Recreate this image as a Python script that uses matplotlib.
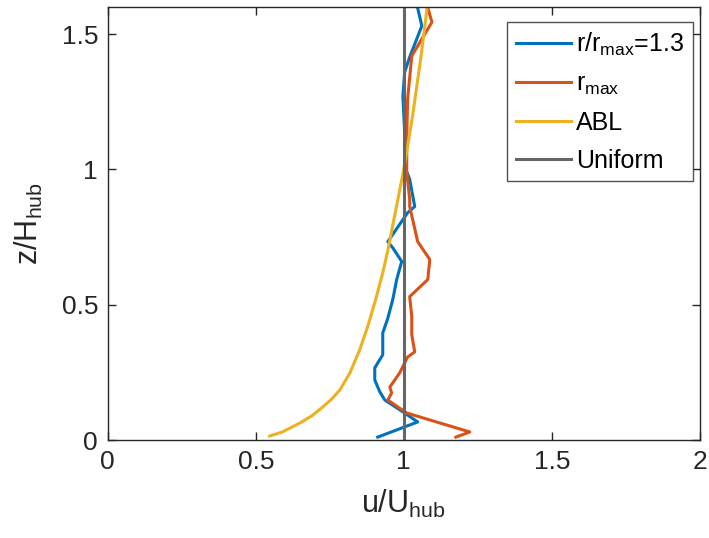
import numpy as np
import matplotlib
matplotlib.use("Agg")
import matplotlib.pyplot as plt

plt.rcParams['font.family'] = ['Liberation Sans', 'DejaVu Sans']
plt.rcParams['mathtext.default'] = 'regular'

# r/rmax = 1.3 profile (u/Uhub, z/Hhub)
u_r13 = [0.912, 1.047, 1.003, 0.936, 0.919, 0.902, 0.902, 0.929, 0.929, 0.946, 0.963,
         0.976, 0.993, 0.963, 0.946, 1.013, 1.037, 1.020, 1.007, 1.003, 0.997, 1.003,
         1.020, 1.061, 1.044]
z_r13 = [0.011, 0.067, 0.100, 0.148, 0.178, 0.222, 0.267, 0.315, 0.396, 0.450, 0.520,
         0.593, 0.660, 0.710, 0.733, 0.840, 0.863, 0.963, 1.000, 1.137, 1.270, 1.360,
         1.415, 1.530, 1.610]

# rmax profile
u_rmax = [1.176, 1.223, 1.010, 0.946, 0.959, 0.953, 0.986, 1.013, 1.037, 1.027, 1.027,
          1.020, 1.081, 1.088, 1.047, 1.020, 1.020, 1.010, 1.010, 1.013, 1.027, 1.095,
          1.078]
z_rmax = [0.011, 0.030, 0.100, 0.148, 0.174, 0.196, 0.248, 0.307, 0.326, 0.389, 0.456,
          0.530, 0.593, 0.667, 0.733, 0.863, 0.889, 0.989, 1.110, 1.260, 1.419, 1.544,
          1.610]

# ABL inflow profile
u_abl = [0.547, 0.59, 0.649, 0.69, 0.726, 0.755, 0.784, 0.818, 0.851, 0.878, 0.905,
         0.929, 0.946, 0.964, 0.982, 1.0, 1.015, 1.03, 1.043, 1.056, 1.068, 1.08]
z_abl = [0.015, 0.03, 0.063, 0.09, 0.122, 0.15, 0.185, 0.248, 0.333, 0.419, 0.519,
         0.618, 0.7, 0.8, 0.9, 1.0, 1.1, 1.2, 1.3, 1.4, 1.5, 1.61]

# uniform inflow
u_uni = [1.0, 1.0]
z_uni = [0.0, 1.6]

fig = plt.figure(figsize=(7.09, 5.38), dpi=100)
ax = fig.add_axes([0.152, 0.182, 0.835, 0.805])

ax.plot(u_r13, z_r13, color='#0072BD', lw=2.2, label=r'r/r$_{max}$=1.3')
ax.plot(u_rmax, z_rmax, color='#D95319', lw=2.2, label=r'r$_{max}$')
ax.plot(u_abl, z_abl, color='#EDB120', lw=2.2, label='ABL')
ax.plot(u_uni, z_uni, color='#666666', lw=2.2, label='Uniform')

ax.set_xlim(0, 2)
ax.set_ylim(0, 1.6)
ax.set_xticks([0, 0.5, 1, 1.5, 2])
ax.set_xticklabels(['0', '0.5', '1', '1.5', '2'])
ax.set_yticks([0, 0.5, 1, 1.5])
ax.set_yticklabels(['0', '0.5', '1', '1.5'])
ax.tick_params(direction='in', top=True, right=True, labelsize=19, length=6,
               width=1, colors='#262626', pad=7)
for s in ax.spines.values():
    s.set_color('#262626')
    s.set_linewidth(1)

ax.set_xlabel(r'u/U$_{hub}$', fontsize=22, color='#262626', labelpad=10)
ax.set_ylabel(r'z/H$_{hub}$', fontsize=22, color='#262626', labelpad=12)

leg = ax.legend(loc='upper right', bbox_to_anchor=(0.988, 0.965), borderaxespad=0,
                fontsize=18, frameon=True, fancybox=False,
                edgecolor='#262626', handlelength=2.2, handletextpad=0.2,
                labelspacing=0.55, borderpad=0.35)
leg.get_frame().set_linewidth(1)

fig.savefig('out.png', dpi=100)
